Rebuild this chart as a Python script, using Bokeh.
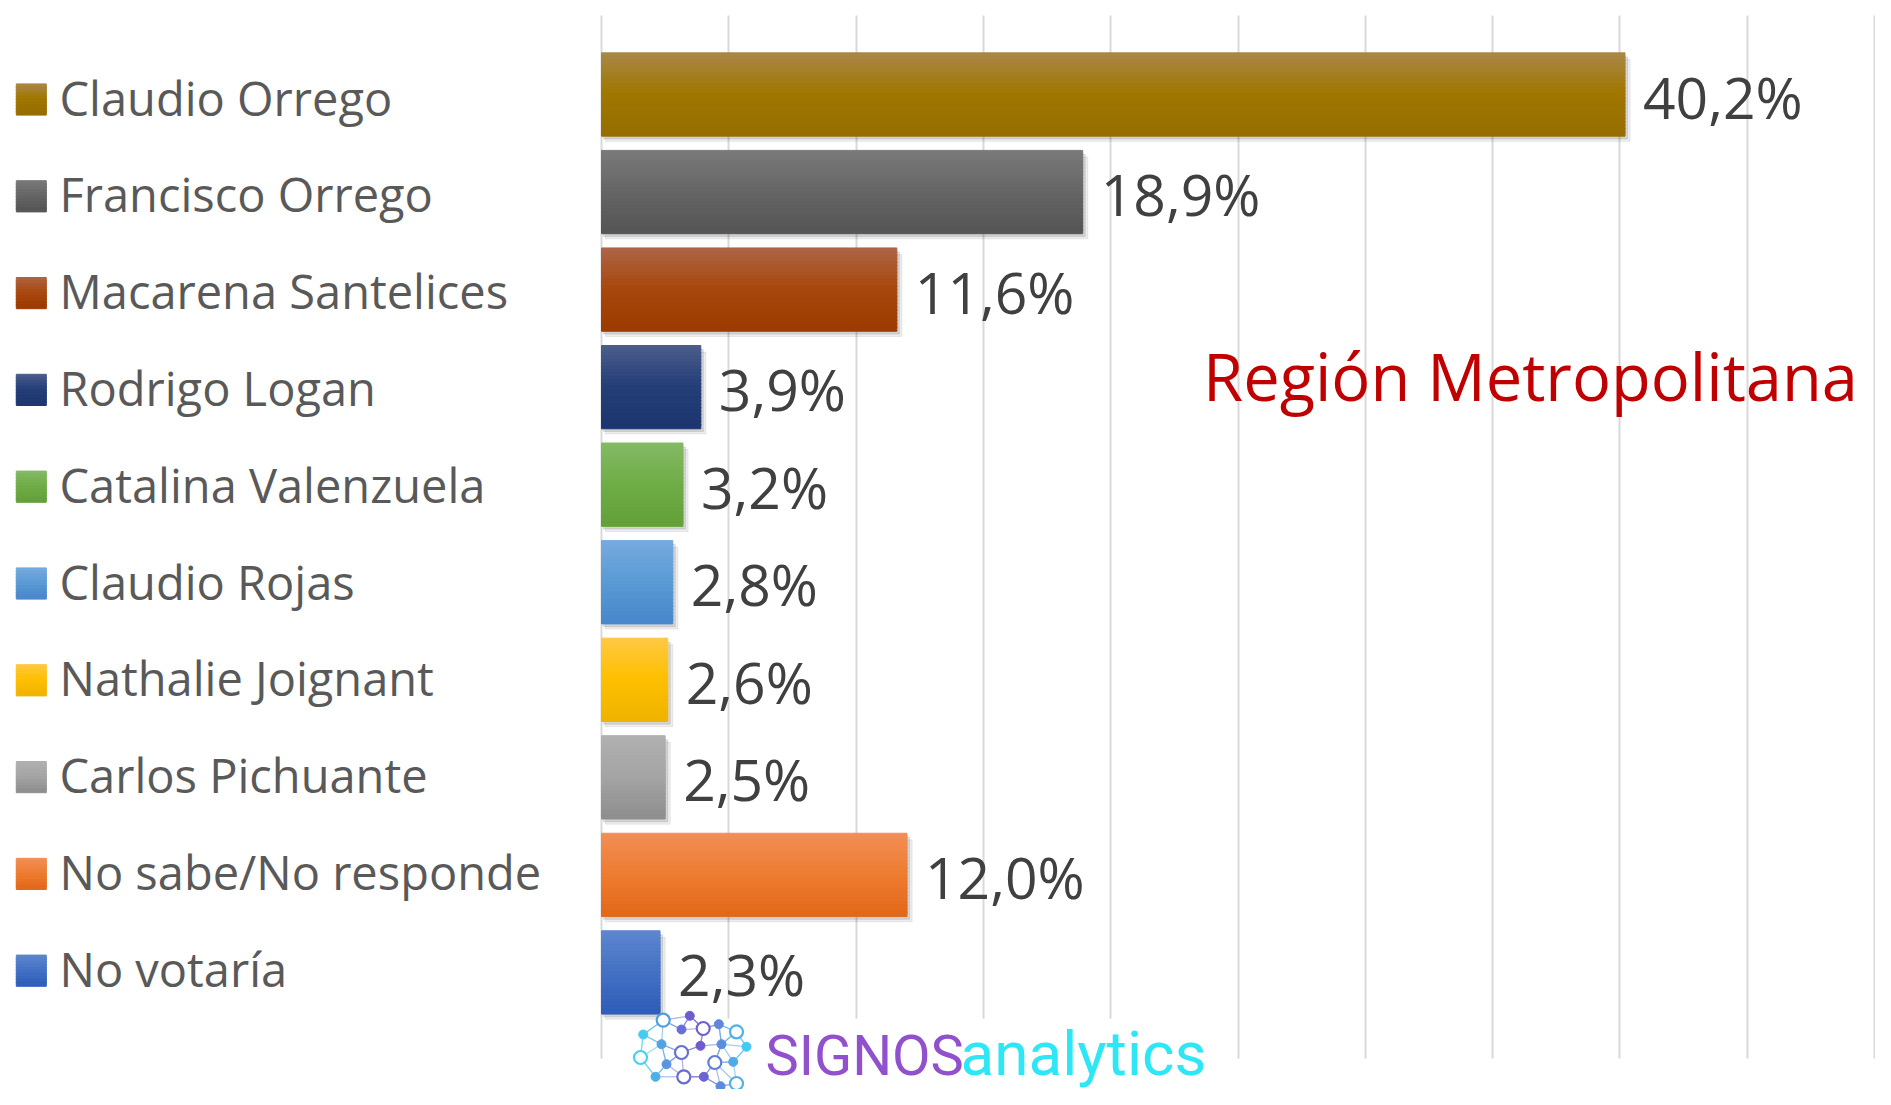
from bokeh.plotting import figure
from bokeh.models import Range1d, BoxAnnotation, FixedTicker, ColumnDataSource
from bokeh.embed import file_html
from bokeh.resources import INLINE
from bokeh.core.properties import value

# ---------------- data ----------------
candidates = ["Claudio Orrego", "Francisco Orrego", "Macarena Santelices", "Rodrigo Logan",
              "Catalina Valenzuela", "Claudio Rojas", "Nathalie Joignant", "Carlos Pichuante",
              "No sabe/No responde", "No votaría"]
percentages = [40.2, 18.9, 11.6, 3.9, 3.2, 2.8, 2.6, 2.5, 12.0, 2.3]
value_labels = ["40,2%", "18,9%", "11,6%", "3,9%", "3,2%", "2,8%", "2,6%", "2,5%", "12,0%", "2,3%"]
grid_ticks = [0, 5, 10, 15, 20, 25, 30, 35, 40, 45, 50]
title_text = "Región Metropolitana"

# gradient stops (top, middle, bottom) per category
color_top = ["#A9884A", "#7A7A7A", "#AE6546", "#4D5D8C", "#85BA66", "#77AADF", "#FFC844", "#B0B0B0", "#F28E58", "#5E86CF"]
color_mid = ["#A07700", "#666666", "#A8480E", "#243F78", "#70AD47", "#5B9BD5", "#FFC000", "#A5A5A5", "#ED7D31", "#4472C4"]
color_bot = ["#966E00", "#555555", "#9C3B00", "#1E3670", "#63A03A", "#4887CB", "#EFB300", "#8E8E8E", "#E2681A", "#2F5DB9"]

# ---------------- geometry (styling) ----------------
W, H = 1875, 1089
X0, PX = 601.0, 25.46      # canvas x of 0% and px per %
Y0, ROW = 94.0, 97.55      # canvas y of first row centre and px per row


def sx(px):  # pixel x -> data x
    return (px - X0) / PX


def sy(py):  # pixel y -> data y
    return (py - Y0) / ROW


def hex2rgb(h):
    h = h.lstrip("#")
    return tuple(int(h[i:i + 2], 16) for i in (0, 2, 4))


def mix(a, b, t):
    ra, rb = hex2rgb(a), hex2rgb(b)
    return "#%02x%02x%02x" % tuple(int(round(ra[i] + (rb[i] - ra[i]) * t)) for i in range(3))


def grad(top, mid, bot, t):
    if t < 0.5:
        return mix(top, mid, t / 0.5)
    return mix(mid, bot, (t - 0.5) / 0.5)


p = figure(width=W, height=H,
           x_range=Range1d(-X0 / PX, (W - X0) / PX),
           y_range=Range1d((H - Y0) / ROW, -Y0 / ROW),
           output_backend="svg", toolbar_location=None,
           x_axis_location=None, y_axis_location=None,
           min_border=0, outline_line_color=None, background_fill_color="white")

p.xgrid.ticker = FixedTicker(ticks=grid_ticks)
p.xgrid.grid_line_color = "#D9D9D9"
p.xgrid.grid_line_width = 2
p.ygrid.visible = False

# hide grid beyond its vertical extent
p.add_layout(BoxAnnotation(top=sy(15), bottom=-5, fill_color="white", fill_alpha=1, line_color=None, level="underlay"))
p.add_layout(BoxAnnotation(top=sy(1058), bottom=20, fill_color="white", fill_alpha=1, line_color=None, level="underlay"))
# logo background
p.add_layout(BoxAnnotation(left=sx(634), right=sx(1210), top=sy(1018), bottom=20,
                           fill_color="white", fill_alpha=1, line_color=None, level="underlay"))

idx = list(range(len(candidates)))
bar_h = 0.84

# shadows
p.hbar(y=[i + 0.06 for i in idx], left=0.15, right=[v + 0.2 for v in percentages], height=bar_h,
       color="black", alpha=0.07)
p.hbar(y=[i + 0.035 for i in idx], left=0.08, right=[v + 0.1 for v in percentages], height=bar_h,
       color="black", alpha=0.10)

# gradient bars as thin strips
N = 24
for k in range(N):
    t = (k + 0.5) / N
    src = ColumnDataSource(dict(
        y=[i - bar_h / 2 + t * bar_h for i in idx],
        right=percentages,
        c=[grad(color_top[i], color_mid[i], color_bot[i], t) for i in idx]))
    p.hbar(y="y", left=0, right="right", height=bar_h / N * 1.4, color="c", source=src)

# value labels
p.text(x=percentages, y=[i + 2 / ROW for i in idx], text=value_labels, x_offset=18,
       text_font=value("Open Sans"), text_font_size="57px", text_color="#404040",
       text_align="left", text_baseline="middle")

# legend (drawn manually to match the original layout)
leg_y = [sy(99 + 96.8 * i) for i in idx]
sq_h = 30 / ROW
M = 10
for k in range(M):
    t = (k + 0.5) / M
    p.rect(x=[sx(30.8)] * len(idx), y=[yy - sq_h / 2 + t * sq_h for yy in leg_y],
           width=30, width_units="screen", height=sq_h / M * 1.4,
           color=[grad(color_top[i], color_mid[i], color_bot[i], t) for i in idx])
p.text(x=[sx(59)] * len(idx), y=[yy - 2 / ROW for yy in leg_y], text=candidates,
       text_font=value("Open Sans"), text_font_size="47px", text_color="#595959",
       text_align="left", text_baseline="middle")

# title
p.text(x=[sx(1530)], y=[sy(375)], text=[title_text], text_font=value("Open Sans"),
       text_font_size="65px", text_color="#C00000", text_align="center", text_baseline="middle")

# ---------------- logo ----------------
ox, oy = 620, 1003
hollow = [(42.7, 16.7), (82.7, 25), (116, 28.3), (61, 49), (94.3, 59), (20, 54), (63.3, 73.3), (116, 80)]
filled = [(69.3, 12.3), (22.7, 31), (61, 26), (98.3, 20.7), (126, 43.3), (41, 40.7), (80, 42.3),
          (101, 40.7), (46, 60.7), (112.7, 58.3), (35, 73.3), (83.3, 73.3), (100, 82.7)]
nodes = hollow + filled


def node_color(x, y):
    t = max(0.0, min(1.0, 1 - abs(x - 75) / 55))
    return mix("#3FD4F2", "#7B3FC9", t * 0.9)


ex0, ey0, ex1, ey1, ec = [], [], [], [], []
for a in range(len(nodes)):
    d = sorted(range(len(nodes)), key=lambda b: (nodes[a][0] - nodes[b][0]) ** 2 + (nodes[a][1] - nodes[b][1]) ** 2)
    for b in d[1:4]:
        ex0.append(sx(ox + nodes[a][0])); ey0.append(sy(oy + nodes[a][1]))
        ex1.append(sx(ox + nodes[b][0])); ey1.append(sy(oy + nodes[b][1]))
        ec.append(node_color((nodes[a][0] + nodes[b][0]) / 2, 0))
p.segment(x0=ex0, y0=ey0, x1=ex1, y1=ey1, line_color=ec, line_width=1.2, line_alpha=0.55)
p.scatter(x=[sx(ox + x) for x, y in filled], y=[sy(oy + y) for x, y in filled], size=9,
          color=[node_color(x, y) for x, y in filled])
p.scatter(x=[sx(ox + x) for x, y in hollow], y=[sy(oy + y) for x, y in hollow], size=13,
          fill_color="white", line_width=2.2, line_color=[node_color(x, y) for x, y in hollow])

p.text(x=[sx(765)], y=[sy(1055)], text=["SIGNOS"], text_font=value("Roboto"), text_font_size="56px",
       text_color="#9150CC", text_align="left", text_baseline="middle")
p.text(x=[sx(960)], y=[sy(1053)], text=["analytics"], text_font=value("Roboto"), text_font_size="62px",
       text_color="#2DE6F6", text_align="left", text_baseline="middle")

open("out.html", "w").write(file_html(p, INLINE))
